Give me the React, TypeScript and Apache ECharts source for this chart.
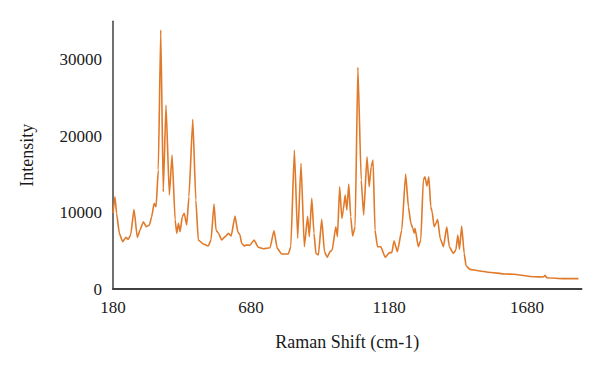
import React, { useEffect, useRef } from "react";
import * as echarts from "echarts";

const ramanShift: number[] = [
  180, 187, 193, 203, 215, 227, 235, 244, 256, 268, 278, 290, 300, 312, 320, 329, 336, 344, 353, 362,
  372, 384, 394, 405, 411, 417, 423, 431, 438, 447, 455, 469, 480, 489, 507, 525, 535, 546, 553, 562,
  574, 586, 598, 608, 622, 632, 640, 646, 656, 662, 676, 691, 706, 725, 749, 763, 775, 791, 815, 824,
  837, 849, 861, 873, 885, 891, 900, 908, 915, 924, 936, 946, 956, 966, 974, 987, 993, 1001, 1009, 1014,
  1021, 1027, 1034, 1041, 1048, 1057, 1067, 1079, 1088, 1100, 1108, 1115, 1122, 1129, 1138, 1150, 1166, 1181, 1190, 1198,
  1210, 1226, 1240, 1250, 1259, 1266, 1271, 1274, 1286, 1295, 1304, 1310, 1317, 1324, 1331, 1336, 1343, 1350, 1356, 1365,
  1377, 1389, 1398, 1413, 1422, 1429, 1435, 1443, 1452, 1459, 1473, 1503, 1540, 1600, 1630, 1703, 1739, 1745, 1751, 1812,
  1866,
];

const intensity: number[] = [
  9900, 12060, 9900, 7280, 6180, 6750, 6490, 7060, 10420, 6750, 7710, 8800, 8140, 8360, 9450, 11200, 10750, 15550, 33850, 12720,
  24050, 12290, 17510, 9020, 7280, 8590, 7490, 9450, 9900, 8360, 12060, 22180, 11630, 6400, 5880, 5620, 6400, 11110, 7710, 7280,
  6400, 6840, 7280, 6930, 9540, 7490, 7060, 5970, 5620, 5750, 5710, 6400, 5450, 5270, 5400, 7620, 5320, 4570, 4570, 5530,
  18170, 6630, 16430, 5530, 9500, 6840, 11850, 7280, 4660, 4440, 9110, 4880, 4140, 4880, 5100, 8140, 6840, 13370, 9240, 10330,
  12290, 10330, 13720, 9450, 6930, 8140, 28980, 14250, 9670, 17290, 13370, 15980, 16860, 7710, 5530, 5530, 4140, 4750, 4750, 6310,
  4880, 7710, 15030, 10750, 8590, 7930, 7280, 7930, 5530, 6400, 14250, 14680, 13460, 14680, 10750, 10100, 8140, 8590, 9110, 6630,
  5530, 8140, 5530, 4660, 5100, 7060, 5190, 8230, 4660, 3010, 2570, 2390, 2180, 1960, 1920, 1610, 1570, 1790, 1480, 1350,
  1350,
];

const xTicks = { min: 180, max: 1877, interval: 500 };
const yTicks = { min: 0, max: 35000, interval: 10000 };

export default function App() {
  const ref = useRef<HTMLDivElement>(null);

  useEffect(() => {
    if (!ref.current) return;
    const chart = echarts.init(ref.current, null, { renderer: "svg" });
    const font = "'Liberation Serif', 'DejaVu Serif', serif";
    chart.setOption({
      animation: false,
      backgroundColor: "#ffffff",
      grid: {
        left: 113,
        right: 18.5,
        top: 21.25,
        bottom: 77,
        containLabel: false,
        outerBoundsMode: "none",
      },
      xAxis: {
        type: "value",
        min: xTicks.min,
        max: xTicks.max,
        interval: xTicks.interval,
        name: "Raman Shift (cm-1)",
        nameLocation: "middle",
        nameGap: 44,
        nameTextStyle: { fontFamily: font, fontSize: 18, color: "#1a1a1a" },
        axisLine: { show: true, lineStyle: { color: "#404040", width: 2 } },
        axisTick: { show: false },
        splitLine: { show: false },
        axisLabel: {
          showMaxLabel: false,
          formatter: (v: number) => String(v),
          fontFamily: font,
          fontSize: 17,
          color: "#1a1a1a",
          margin: 10,
        },
      },
      yAxis: {
        type: "value",
        min: yTicks.min,
        max: yTicks.max,
        interval: yTicks.interval,
        name: "Intensity",
        nameLocation: "middle",
        nameGap: 77,
        nameTextStyle: { fontFamily: font, fontSize: 18, color: "#1a1a1a" },
        axisLine: { show: true, lineStyle: { color: "#404040", width: 1.5 } },
        axisTick: { show: false },
        splitLine: { show: false },
        axisLabel: {
          showMaxLabel: false,
          formatter: (v: number) => String(v),
          fontFamily: font,
          fontSize: 17,
          color: "#1a1a1a",
          margin: 11,
        },
      },
      series: [
        {
          type: "line",
          data: ramanShift.map((x, i) => [x, intensity[i]]),
          showSymbol: false,
          smooth: 0.15,
          smoothMonotone: "x",
          lineStyle: { color: "#E07A2A", width: 1.6 },
        },
      ],
    });
    return () => chart.dispose();
  }, []);

  return (
    <div
      ref={ref}
      style={{ position: "fixed", left: 0, top: 0, width: 600, height: 366, background: "#fff" }}
    />
  );
}
